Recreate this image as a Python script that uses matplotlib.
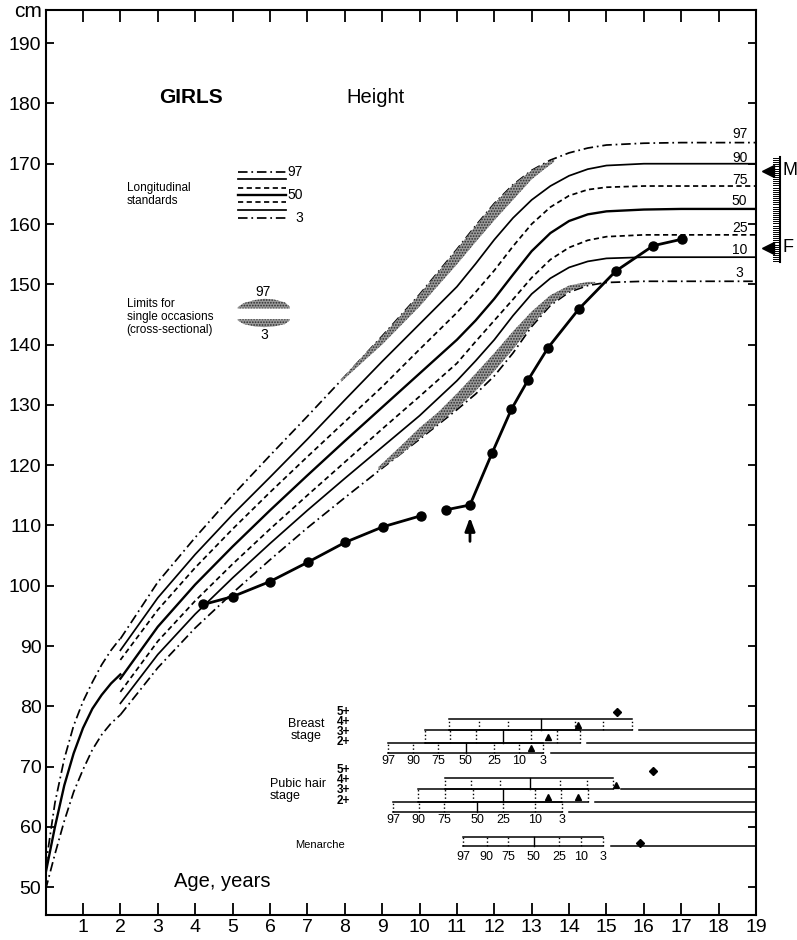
import matplotlib
matplotlib.use('Agg')
import matplotlib.pyplot as plt
import numpy as np

plt.rcParams['font.family'] = ['Liberation Sans', 'DejaVu Sans']
plt.rcParams['hatch.linewidth'] = 0.8

# ---- longitudinal standards, 0-2 years (length) ----
age_inf = [0, 0.25, 0.5, 0.75, 1.0, 1.25, 1.5, 1.75, 2.0]
inf_97 = [53.5, 64.0, 71.3, 76.8, 80.8, 84.0, 86.9, 89.3, 91.3]
inf_50 = [52.3, 60.0, 66.9, 72.2, 76.4, 79.6, 81.9, 83.8, 85.3]
inf_3 = [49.6, 55.5, 61.0, 65.8, 69.5, 72.8, 75.3, 77.2, 78.6]

# ---- longitudinal standards, 2-19 years (height) ----
ages = [2, 3, 4, 5, 6, 7, 8, 9, 10, 11, 11.5, 12, 12.5, 13, 13.5, 14, 14.5, 15, 16, 17, 19]
p97 = [91.2, 100.6, 108.0, 115.0, 121.6, 128.1, 134.7, 141.4, 148.3, 155.8, 159.7, 163.4, 166.5, 168.9, 170.6, 171.8, 172.6, 173.1, 173.4, 173.5, 173.5]
p90 = [89.3, 98.0, 105.2, 111.8, 118.0, 124.3, 130.8, 137.2, 143.4, 149.6, 153.4, 157.4, 161.0, 164.0, 166.3, 168.0, 169.1, 169.7, 170.0, 170.0, 170.0]
p75 = [87.7, 96.0, 103.0, 109.4, 115.5, 121.4, 127.2, 133.0, 139.2, 145.3, 148.7, 152.3, 156.3, 160.0, 162.8, 164.7, 165.7, 166.1, 166.3, 166.3, 166.3]
p50 = [84.6, 93.2, 100.2, 106.5, 112.5, 118.3, 124.0, 129.6, 135.2, 140.8, 144.0, 147.6, 151.6, 155.5, 158.5, 160.5, 161.6, 162.1, 162.4, 162.5, 162.5]
p25 = [82.4, 90.8, 97.5, 103.6, 109.4, 115.0, 120.5, 126.0, 131.4, 136.9, 140.5, 144.0, 147.5, 151.1, 154.1, 156.1, 157.3, 157.9, 158.2, 158.2, 158.2]
p10 = [80.5, 88.6, 95.3, 101.3, 107.0, 112.5, 117.8, 123.0, 128.2, 134.0, 137.3, 140.8, 144.8, 148.4, 151.0, 152.8, 153.8, 154.3, 154.5, 154.5, 154.5]
p3 = [78.6, 86.4, 93.0, 98.8, 104.3, 109.6, 114.6, 119.5, 124.3, 129.2, 131.8, 134.8, 138.6, 143.0, 146.5, 148.7, 149.8, 150.3, 150.5, 150.5, 150.5]

# ---- cross-sectional limits (stippled bands) ----
band97_x = [7.9, 8.5, 9, 10, 11, 11.5, 12, 12.5, 13, 13.3, 13.6]
band97_hi = [134.2, 138.2, 141.4, 148.3, 155.8, 159.7, 163.4, 166.5, 168.9, 169.9, 170.7]
band97_lo = [133.8, 137.2, 140.0, 146.3, 153.3, 157.0, 160.6, 164.0, 167.4, 168.9, 170.3]
band3_x = [8.9, 9.5, 10, 10.5, 11, 11.5, 12, 12.5, 13, 13.5, 14, 14.5, 14.7]
band3_lo = [119.1, 121.8, 124.4, 126.8, 129.4, 132.3, 135.6, 139.2, 143.2, 146.6, 148.8, 149.9, 150.2]
band3_hi = [119.7, 123.2, 126.2, 128.8, 131.9, 135.2, 138.6, 142.2, 145.5, 148.2, 149.8, 150.4, 150.4]

# ---- patient ----
pt_age_a = [4.22, 5.0, 6.0, 7.01, 8.01, 9.03, 10.03]
pt_ht_a = [96.9, 98.2, 100.7, 103.9, 107.2, 109.8, 111.6]
pt_age_b = [10.71, 11.35, 11.94, 12.46, 12.91, 13.44, 14.26, 15.25, 16.25, 17.03]
pt_ht_b = [112.6, 113.4, 122.0, 129.3, 134.2, 139.5, 145.9, 152.2, 156.4, 157.5]
arrow_age = 11.35

# ---- puberty ----
pct_names = ['97', '90', '75', '50', '25', '10', '3']
breast_2 = [9.16, 9.83, 10.5, 11.24, 11.99, 12.67, 13.31]
breast_3 = [10.16, 10.81, 11.5, 12.24, 12.99, 13.67, 14.29]
breast_4 = [10.79, 11.6, 12.37, 13.24, 14.15, 14.9, 15.68]
pubic_2 = [9.3, 9.98, 10.66, 11.54, 12.24, 13.09, 13.8]
pubic_3 = [9.97, 10.68, 11.44, 12.24, 13.09, 13.78, 14.5]
pubic_4 = [10.68, 11.39, 12.15, 12.95, 13.75, 14.47, 15.18]
menarche = [11.17, 11.8, 12.37, 13.06, 13.73, 14.32, 14.91]
breast_tri = [(12.98, 73.1), (13.43, 75.0), (14.24, 76.9)]
breast_dia = (15.27, 79.0)
pubic_tri = [(13.44, 64.9), (14.24, 64.9), (15.26, 67.0)]
pubic_dia = (16.25, 69.2)
menarche_dia = (15.9, 57.4)
stage_labels = '5+\n4+\n3+\n2+'

right_labels = ['97', '90', '75', '50', '25', '10', '3']
right_label_y = [174.9, 171.0, 167.3, 163.8, 159.3, 155.7, 151.9]

DD = (0, (5.5, 2.2, 1.0, 2.2))
DA = (0, (3.0, 2.0))
styles = {'97': (DD, 1.25), '90': ('-', 1.25), '75': (DA, 1.25), '50': ('-', 1.7),
          '25': (DA, 1.25), '10': ('-', 1.25), '3': (DD, 1.25)}
stipple = dict(facecolor='#9a9a9a', edgecolor='#2a2a2a', hatch='......', linewidth=0)

fig = plt.figure(figsize=(7.97, 9.40), dpi=100)
ax = fig.add_axes([0.0572, 0.0266, 0.8914, 0.9628])
ax.set_xlim(0, 19)
ax.set_ylim(45.4, 195.5)

# bands first so lines show on top
ax.fill_between(band97_x, band97_lo, band97_hi, zorder=3, **stipple)
ax.fill_between(band3_x, band3_lo, band3_hi, zorder=3, **stipple)

for name, ys in zip(['97', '50', '3'], [inf_97, inf_50, inf_3]):
    ls, lw = styles[name]
    ax.plot(age_inf, ys, color='k', linestyle=ls, linewidth=lw, zorder=2)

for name, ys in zip(pct_names, [p97, p90, p75, p50, p25, p10, p3]):
    ls, lw = styles[name]
    ax.plot(ages, ys, color='k', linestyle=ls, linewidth=lw, zorder=2)

for lab, y in zip(right_labels, right_label_y):
    ax.text(18.56, y, lab, fontsize=10, ha='center', va='center')

# patient
ax.plot(pt_age_a, pt_ht_a, color='k', lw=2, marker='o', ms=6.5, zorder=5)
ax.plot(pt_age_b, pt_ht_b, color='k', lw=2, marker='o', ms=6.5, zorder=5)
ax.annotate('', xy=(arrow_age, 111.8), xytext=(arrow_age, 106.9),
            arrowprops=dict(arrowstyle='-|>,head_length=0.8,head_width=0.3', color='k', lw=2))

# titles
ax.text(3.89, 181.0, 'GIRLS', fontsize=15, fontweight='bold', ha='center', va='center')
ax.text(8.81, 181.0, 'Height', fontsize=14.5, ha='center', va='center')
ax.text(4.72, 51.0, 'Age, years', fontsize=14.5, ha='center', va='center')
ax.text(-0.47, 195.2, 'cm', fontsize=15, ha='center', va='center', clip_on=False)

# legend: longitudinal standards
ax.text(2.17, 164.85, 'Longitudinal\nstandards', fontsize=8.5, ha='left', va='center', linespacing=1.1)
leg_y = [168.6, 167.4, 166.0, 164.8, 163.7, 162.4, 161.0]
for name, y in zip(pct_names, leg_y):
    ls, lw = styles[name]
    ax.plot([5.14, 6.43], [y, y], color='k', linestyle=ls, linewidth=lw)
for lab, y in [('97', 168.6), ('50', 164.8), ('3', 161.0)]:
    ax.text(6.88, y, lab, fontsize=10, ha='right', va='center')

# legend: cross-sectional
ax.text(2.17, 144.6, 'Limits for\nsingle occasions\n(cross-sectional)', fontsize=8.5,
        ha='left', va='center', linespacing=1.1)
blob_x = [5.14, 5.3, 5.6, 5.85, 6.1, 6.4, 6.53]
blob_top = [146.2, 146.9, 147.4, 147.6, 147.5, 147.0, 146.3]
blob_bot = [144.0, 143.4, 143.0, 142.9, 143.0, 143.4, 144.0]
ax.fill_between(blob_x, [146.0] * 7, blob_top, **stipple)
ax.fill_between(blob_x, blob_bot, [144.2] * 7, **stipple)
ax.text(5.81, 148.7, '97', fontsize=10, ha='center', va='center')
ax.text(5.84, 141.6, '3', fontsize=10, ha='center', va='center')


def stage_box(xs, y_top, y_bot):
    ax.plot([xs[0], xs[-1]], [y_top, y_top], color='k', lw=1.1)
    ax.plot([xs[0], xs[-1]], [y_bot, y_bot], color='k', lw=1.1)
    for i, x in enumerate(xs):
        ls = '-' if i == 3 else ':'
        ax.plot([x, x], [y_bot, y_top], color='k', lw=1.0, linestyle=ls)
    ax.plot([xs[-1] + 0.2, 19], [y_bot, y_bot], color='k', lw=1.1)


# breast stage
stage_box(breast_4, 77.9, 76.1)
stage_box(breast_3, 76.1, 74.0)
stage_box(breast_2, 74.0, 72.3)
for x, lab in zip(breast_2, pct_names):
    ax.text(x, 71.0, lab, fontsize=9, ha='center', va='center')
ax.text(6.96, 76.05, 'Breast\nstage', fontsize=9, ha='center', va='center', linespacing=1.05)
ax.text(7.79, 76.55, stage_labels, fontsize=8.5, ha='left', va='center',
        fontweight='bold', linespacing=0.8)

# pubic hair stage
stage_box(pubic_4, 68.1, 66.3)
stage_box(pubic_3, 66.3, 64.2)
stage_box(pubic_2, 64.2, 62.4)
for x, lab in zip(pubic_2, pct_names):
    ax.text(x, 61.1, lab, fontsize=9, ha='center', va='center')
ax.text(6.0, 66.1, 'Pubic hair\nstage', fontsize=9, ha='left', va='center', linespacing=1.05)
ax.text(7.79, 66.9, stage_labels, fontsize=8.5, ha='left', va='center',
        fontweight='bold', linespacing=0.8)

# menarche
stage_box(menarche, 58.4, 56.8)
for x, lab in zip(menarche, pct_names):
    ax.text(x, 55.1, lab, fontsize=9, ha='center', va='center')
ax.text(7.34, 57.0, 'Menarche', fontsize=8, ha='center', va='center')

for x, y in breast_tri + pubic_tri:
    ax.plot(x, y, marker='^', color='k', ms=4)
for x, y in [breast_dia, pubic_dia, menarche_dia]:
    ax.plot(x, y, marker='D', color='k', ms=4.5)

# mid-parent ruler on the right
ax.plot([19.64, 19.64], [153.7, 171.1], color='k', lw=1.5, clip_on=False)
for y in np.arange(153.8, 171.1, 0.35):
    ax.plot([19.45, 19.64], [y, y], color='k', lw=0.7, clip_on=False)
ax.plot(19.32, 168.8, marker='<', color='k', ms=8, clip_on=False)
ax.plot(19.32, 156.05, marker='<', color='k', ms=8, clip_on=False)
ax.text(19.7, 168.8, 'M', fontsize=13, ha='left', va='center', clip_on=False)
ax.text(19.7, 156.05, 'F', fontsize=13, ha='left', va='center', clip_on=False)

# axes
ax.set_xticks(range(1, 20))
ax.set_xticklabels([str(i) for i in range(1, 20)])
ax.set_yticks(range(50, 200, 10))
ax.tick_params(direction='in', width=1.3, top=True, right=True, labelsize=14, pad=3)
ax.tick_params(axis='x', length=8.5)
ax.tick_params(axis='y', length=6)
for s in ax.spines.values():
    s.set_linewidth(1.5)

plt.savefig('out.png', dpi=100)
